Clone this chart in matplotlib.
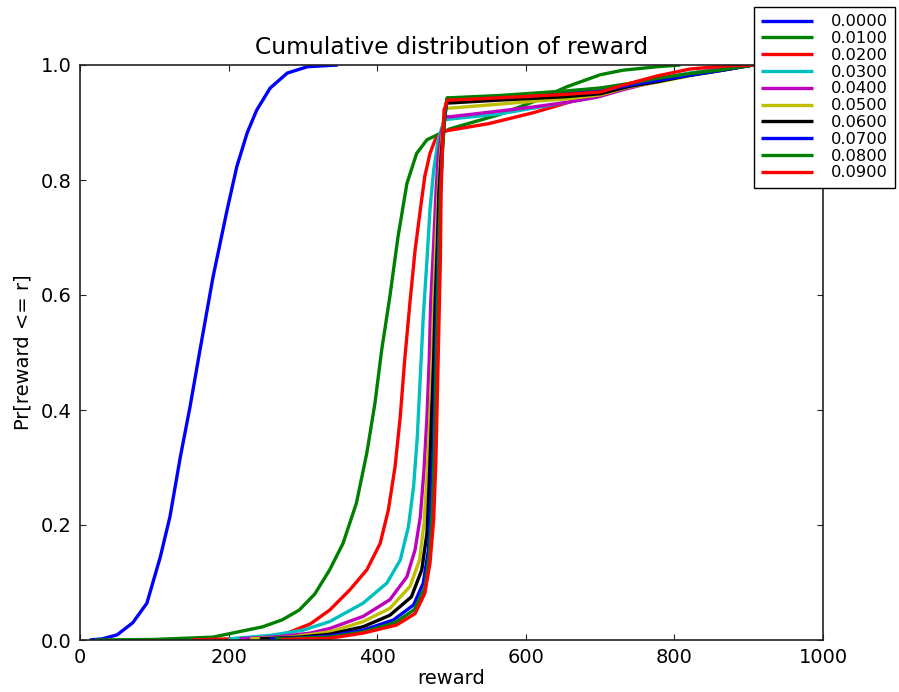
import matplotlib
matplotlib.use("Agg")
import matplotlib.pyplot as plt

labels = ["0.0000", "0.0100", "0.0200", "0.0300", "0.0400",
          "0.0500", "0.0600", "0.0700", "0.0800", "0.0900"]
colors = ["b", "g", "r", "c", "m", "y", "k", "b", "g", "r"]

x_000 = [13, 30, 50, 71, 90, 108, 121, 135, 148, 162, 179, 198, 211, 225, 238, 256, 279, 306, 347]
y_000 = [0.0, 0.002, 0.009, 0.030, 0.064, 0.144, 0.214, 0.318, 0.405, 0.508, 0.631, 0.748, 0.823, 0.882, 0.922, 0.960, 0.986, 0.997, 1.0]

x_010 = [20, 100, 179, 246, 272, 295, 316, 336, 354, 372, 386, 397, 406, 417, 428, 440, 453, 467, 480, 498, 565, 610, 655, 700, 731, 777, 808]
y_010 = [0.0, 0.001, 0.005, 0.023, 0.035, 0.052, 0.080, 0.122, 0.168, 0.238, 0.325, 0.412, 0.504, 0.597, 0.701, 0.794, 0.846, 0.870, 0.878, 0.889, 0.914, 0.936, 0.962, 0.983, 0.991, 0.997, 1.0]

x_020 = [150, 225, 273, 310, 336, 363, 386, 404, 415, 424, 431, 437, 444, 451, 458, 464, 471, 478, 487, 495, 550, 610, 655, 700, 740, 777, 834, 870, 906]
y_020 = [0.0, 0.003, 0.009, 0.028, 0.052, 0.087, 0.122, 0.168, 0.226, 0.301, 0.388, 0.487, 0.586, 0.678, 0.748, 0.806, 0.846, 0.870, 0.884, 0.886, 0.898, 0.917, 0.934, 0.951, 0.964, 0.974, 0.988, 0.995, 1.0]

x_030 = [200, 256, 300, 336, 381, 413, 431, 442, 449, 454, 458, 462, 467, 471, 476, 482, 489, 492, 498, 565, 610, 655, 700, 740, 777, 820, 865, 906]
y_030 = [0.002, 0.008, 0.017, 0.032, 0.064, 0.099, 0.139, 0.197, 0.267, 0.354, 0.458, 0.562, 0.661, 0.748, 0.817, 0.870, 0.899, 0.905, 0.906, 0.915, 0.925, 0.935, 0.946, 0.962, 0.975, 0.986, 0.993, 1.0]

x_040 = [215, 269, 310, 336, 381, 417, 440, 451, 458, 463, 467, 470, 472, 476, 479, 482, 487, 491, 498, 565, 610, 655, 696, 731, 777, 820, 865, 906]
y_040 = [0.002, 0.006, 0.012, 0.020, 0.041, 0.070, 0.110, 0.157, 0.214, 0.296, 0.388, 0.487, 0.586, 0.690, 0.777, 0.841, 0.887, 0.910, 0.910, 0.920, 0.927, 0.935, 0.944, 0.957, 0.972, 0.984, 0.993, 1.0]

x_050 = [229, 283, 336, 381, 417, 444, 457, 463, 467, 471, 474, 476, 479, 482, 485, 489, 493, 498, 565, 610, 655, 700, 740, 777, 820, 865, 906]
y_050 = [0.002, 0.005, 0.014, 0.032, 0.055, 0.093, 0.139, 0.203, 0.284, 0.388, 0.487, 0.586, 0.690, 0.777, 0.841, 0.899, 0.925, 0.925, 0.932, 0.937, 0.941, 0.948, 0.962, 0.970, 0.981, 0.991, 1.0]

x_060 = [242, 296, 336, 381, 417, 446, 460, 467, 470, 473, 476, 478, 481, 483, 486, 490, 493, 498, 565, 610, 655, 700, 740, 777, 820, 865, 906]
y_060 = [0.002, 0.005, 0.010, 0.023, 0.043, 0.075, 0.122, 0.186, 0.273, 0.383, 0.487, 0.586, 0.690, 0.777, 0.841, 0.904, 0.934, 0.934, 0.939, 0.942, 0.945, 0.950, 0.963, 0.971, 0.982, 0.991, 1.0]

x_070 = [256, 300, 336, 381, 422, 449, 462, 469, 472, 476, 478, 480, 482, 485, 487, 491, 494, 498, 565, 610, 655, 700, 740, 777, 820, 865, 906]
y_070 = [0.002, 0.004, 0.007, 0.017, 0.035, 0.061, 0.099, 0.157, 0.238, 0.354, 0.470, 0.586, 0.690, 0.777, 0.841, 0.910, 0.940, 0.940, 0.944, 0.948, 0.951, 0.955, 0.965, 0.973, 0.982, 0.991, 1.0]

x_080 = [263, 336, 381, 424, 450, 464, 470, 474, 477, 479, 481, 483, 485, 488, 491, 494, 498, 565, 610, 655, 700, 740, 777, 820, 865, 906]
y_080 = [0.002, 0.005, 0.014, 0.030, 0.053, 0.090, 0.145, 0.223, 0.330, 0.450, 0.566, 0.676, 0.777, 0.853, 0.916, 0.943, 0.943, 0.947, 0.951, 0.955, 0.960, 0.968, 0.977, 0.985, 0.992, 1.0]

x_090 = [270, 336, 381, 426, 451, 464, 471, 476, 479, 481, 483, 485, 486, 488, 490, 495, 500, 565, 610, 655, 700, 731, 777, 821, 865, 906]
y_090 = [0.001, 0.003, 0.012, 0.026, 0.046, 0.081, 0.133, 0.209, 0.313, 0.429, 0.545, 0.661, 0.777, 0.864, 0.922, 0.939, 0.939, 0.943, 0.946, 0.949, 0.953, 0.965, 0.981, 0.993, 0.998, 1.0]

series_x = [x_000, x_010, x_020, x_030, x_040, x_050, x_060, x_070, x_080, x_090]
series_y = [y_000, y_010, y_020, y_030, y_040, y_050, y_060, y_070, y_080, y_090]

x_ticks = [0, 200, 400, 600, 800, 1000]
y_ticks = [0.0, 0.2, 0.4, 0.6, 0.8, 1.0]

plt.rcParams['font.family'] = ['DejaVu Sans']
plt.rcParams['font.size'] = 14

fig = plt.figure(figsize=(8.99, 6.92), dpi=100)
ax = fig.add_axes([80/899, 52/692, 743/899, 575/692])

handles = []
for xs, ys, c, lab in zip(series_x, series_y, colors, labels):
    h, = ax.plot(xs, ys, color=c, lw=2.4, label=lab,
                 solid_joinstyle='round', solid_capstyle='butt')
    handles.append(h)

ax.set_xlim(0, 1000)
ax.set_ylim(0, 1.0)
ax.set_xticks(x_ticks)
ax.set_yticks(y_ticks)
ax.set_xticklabels([str(t) for t in x_ticks])
ax.set_yticklabels(["%.1f" % t for t in y_ticks])
ax.tick_params(direction='in', length=4.5, width=0.8, top=True, right=True,
               labelsize=14, pad=6, color='#222222')
for s in ax.spines.values():
    s.set_linewidth(1.2)
    s.set_color('#222222')

ax.set_title("Cumulative distribution of reward", fontsize=16.8, pad=8)
ax.set_xlabel("reward", fontsize=14, labelpad=1)
ax.set_ylabel("Pr[reward <= r]", fontsize=14, labelpad=6)

leg = fig.legend(handles, labels, loc='upper left',
                 bbox_to_anchor=(754/899, 1 - 7/692),
                 bbox_transform=fig.transFigure,
                 fontsize=11.67, labelspacing=0.11, handlelength=3.2,
                 handletextpad=1.1, borderpad=0.45, borderaxespad=0,
                 fancybox=False, framealpha=1, edgecolor='black')
leg.get_frame().set_linewidth(1.0)

fig.savefig("out.png", dpi=100)
